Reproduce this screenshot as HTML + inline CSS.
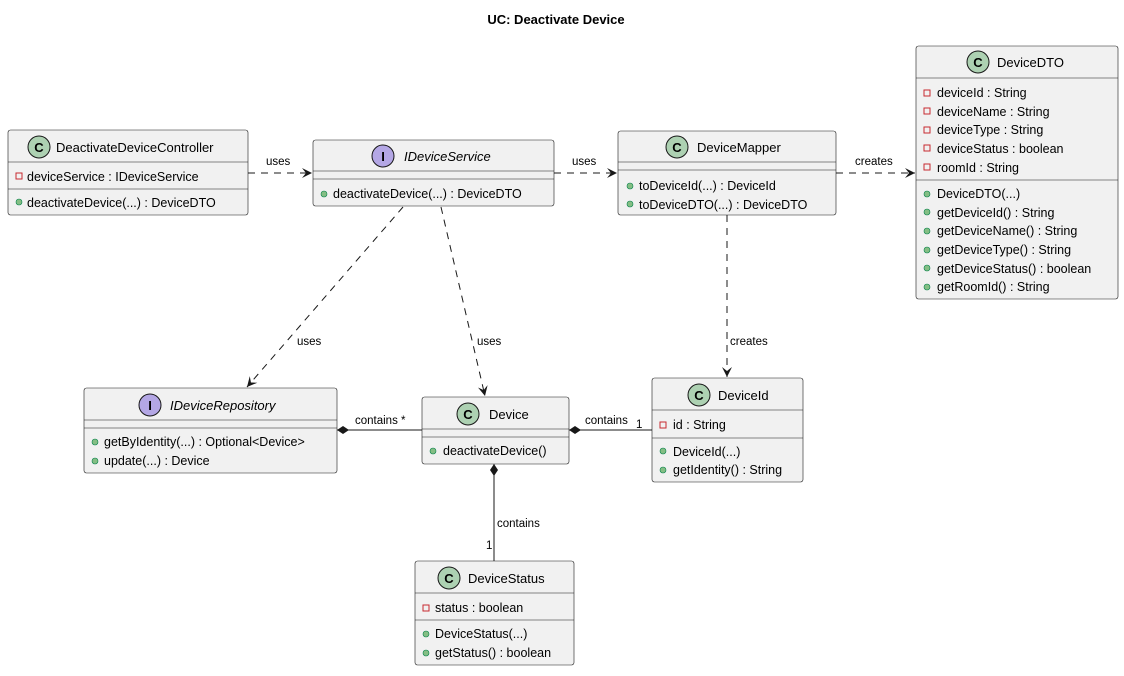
<!DOCTYPE html>
<html><head><meta charset="utf-8"><style>
body{margin:0;background:#fff}
svg text{font-family:"Liberation Sans",sans-serif;fill:#000}
.b{fill:#F1F1F1;stroke:#181818;stroke-width:0.6}
.d{stroke:#181818;stroke-width:0.6}
.t{font-size:13px}
.m{font-size:12.5px}
.l{font-size:11.5px}
.dash{stroke:#181818;stroke-width:1;stroke-dasharray:7,6;fill:none}
.sol{stroke:#181818;stroke-width:1;fill:none}
.pv{fill:none;stroke:#C82930;stroke-width:1}
.pb{fill:#84BE84;stroke:#038048;stroke-width:0.6}
</style></head><body>
<svg width="1124" height="671" xmlns="http://www.w3.org/2000/svg">
<defs>
<marker id="ar" markerWidth="12" markerHeight="10" refX="10" refY="5" orient="auto" markerUnits="userSpaceOnUse">
<path d="M0,0 L10,5 L0,10 L4,5 Z" fill="#181818"/></marker>
</defs>
<text x="556" y="24" text-anchor="middle" style="font-size:13px;font-weight:bold">UC: Deactivate Device</text>

<!-- edges -->
<line class="dash" x1="248" y1="173" x2="312" y2="173" marker-end="url(#ar)"/>
<text class="l" x="266" y="165">uses</text>
<line class="dash" x1="554" y1="173" x2="617" y2="173" marker-end="url(#ar)"/>
<text class="l" x="572" y="165">uses</text>
<line class="dash" x1="836" y1="173" x2="915" y2="173" marker-end="url(#ar)"/>
<text class="l" x="855" y="165">creates</text>
<line class="dash" x1="403" y1="207" x2="247" y2="387" marker-end="url(#ar)"/>
<text class="l" x="297" y="345">uses</text>
<line class="dash" x1="441" y1="207" x2="485" y2="396" marker-end="url(#ar)"/>
<text class="l" x="477" y="345">uses</text>
<line class="dash" x1="727" y1="215" x2="727" y2="377" marker-end="url(#ar)"/>
<text class="l" x="730" y="345">creates</text>

<line class="sol" x1="337" y1="430" x2="422" y2="430"/>
<path d="M337,430 L343,426 L349,430 L343,434 Z" fill="#181818"/>
<text class="l" x="355" y="424">contains *</text>
<line class="sol" x1="569" y1="430" x2="652" y2="430"/>
<path d="M569,430 L575,426 L581,430 L575,434 Z" fill="#181818"/>
<text class="l" x="585" y="424">contains</text>
<text class="l" x="636" y="428">1</text>
<line class="sol" x1="494" y1="464" x2="494" y2="561"/>
<path d="M494,464 L498,470 L494,476 L490,470 Z" fill="#181818"/>
<text class="l" x="497" y="527">contains</text>
<text class="l" x="486" y="549">1</text>

<!-- DeactivateDeviceController -->
<rect class="b" x="8" y="130" width="240" height="85" rx="2.5"/>
<line class="d" x1="8" y1="162" x2="248" y2="162"/>
<line class="d" x1="8" y1="189" x2="248" y2="189"/>
<circle cx="39" cy="147" r="11" fill="#ADD1B2" stroke="#181818" stroke-width="1"/>
<text x="39" y="152" text-anchor="middle" style="font-size:13px;font-weight:bold">C</text>
<text class="t" x="56" y="152">DeactivateDeviceController</text>
<rect class="pv" x="16" y="173" width="6" height="6"/>
<text class="m" x="27" y="181">deviceService : IDeviceService</text>
<circle class="pb" cx="19" cy="202" r="3"/>
<text class="m" x="27" y="207">deactivateDevice(...) : DeviceDTO</text>

<!-- IDeviceService -->
<rect class="b" x="313" y="140" width="241" height="66" rx="2.5"/>
<line class="d" x1="313" y1="171" x2="554" y2="171"/>
<line class="d" x1="313" y1="179" x2="554" y2="179"/>
<circle cx="383" cy="156" r="11" fill="#B4A7E5" stroke="#181818" stroke-width="1"/>
<text x="383" y="161" text-anchor="middle" style="font-size:13px;font-weight:bold">I</text>
<text class="t" x="404" y="161" font-style="italic">IDeviceService</text>
<circle class="pb" cx="324" cy="194" r="3"/>
<text class="m" x="333" y="198">deactivateDevice(...) : DeviceDTO</text>

<!-- DeviceMapper -->
<rect class="b" x="618" y="131" width="218" height="84" rx="2.5"/>
<line class="d" x1="618" y1="162" x2="836" y2="162"/>
<line class="d" x1="618" y1="170" x2="836" y2="170"/>
<circle cx="677" cy="147" r="11" fill="#ADD1B2" stroke="#181818" stroke-width="1"/>
<text x="677" y="152" text-anchor="middle" style="font-size:13px;font-weight:bold">C</text>
<text class="t" x="697" y="152">DeviceMapper</text>
<circle class="pb" cx="630" cy="186" r="3"/>
<text class="m" x="639" y="190">toDeviceId(...) : DeviceId</text>
<circle class="pb" cx="630" cy="204" r="3"/>
<text class="m" x="639" y="209">toDeviceDTO(...) : DeviceDTO</text>

<!-- DeviceDTO -->
<rect class="b" x="916" y="46" width="202" height="253" rx="2.5"/>
<line class="d" x1="916" y1="78" x2="1118" y2="78"/>
<line class="d" x1="916" y1="180" x2="1118" y2="180"/>
<circle cx="978" cy="62" r="11" fill="#ADD1B2" stroke="#181818" stroke-width="1"/>
<text x="978" y="67" text-anchor="middle" style="font-size:13px;font-weight:bold">C</text>
<text class="t" x="997" y="67">DeviceDTO</text>
<rect class="pv" x="924" y="90" width="6" height="6"/><text class="m" x="937" y="97">deviceId : String</text>
<rect class="pv" x="924" y="108" width="6" height="6"/><text class="m" x="937" y="116">deviceName : String</text>
<rect class="pv" x="924" y="127" width="6" height="6"/><text class="m" x="937" y="134">deviceType : String</text>
<rect class="pv" x="924" y="145" width="6" height="6"/><text class="m" x="937" y="153">deviceStatus : boolean</text>
<rect class="pv" x="924" y="164" width="6" height="6"/><text class="m" x="937" y="172">roomId : String</text>
<circle class="pb" cx="927" cy="194" r="3"/><text class="m" x="937" y="198">DeviceDTO(...)</text>
<circle class="pb" cx="927" cy="212" r="3"/><text class="m" x="937" y="217">getDeviceId() : String</text>
<circle class="pb" cx="927" cy="231" r="3"/><text class="m" x="937" y="235">getDeviceName() : String</text>
<circle class="pb" cx="927" cy="250" r="3"/><text class="m" x="937" y="254">getDeviceType() : String</text>
<circle class="pb" cx="927" cy="268" r="3"/><text class="m" x="937" y="273">getDeviceStatus() : boolean</text>
<circle class="pb" cx="927" cy="287" r="3"/><text class="m" x="937" y="291">getRoomId() : String</text>

<!-- IDeviceRepository -->
<rect class="b" x="84" y="388" width="253" height="85" rx="2.5"/>
<line class="d" x1="84" y1="420" x2="337" y2="420"/>
<line class="d" x1="84" y1="428" x2="337" y2="428"/>
<circle cx="150" cy="405" r="11" fill="#B4A7E5" stroke="#181818" stroke-width="1"/>
<text x="150" y="410" text-anchor="middle" style="font-size:13px;font-weight:bold">I</text>
<text class="t" x="170" y="410" font-style="italic">IDeviceRepository</text>
<circle class="pb" cx="95" cy="442" r="3"/><text class="m" x="104" y="446">getByIdentity(...) : Optional&lt;Device&gt;</text>
<circle class="pb" cx="95" cy="461" r="3"/><text class="m" x="104" y="465">update(...) : Device</text>

<!-- Device -->
<rect class="b" x="422" y="397" width="147" height="67" rx="2.5"/>
<line class="d" x1="422" y1="429" x2="569" y2="429"/>
<line class="d" x1="422" y1="437" x2="569" y2="437"/>
<circle cx="468" cy="414" r="11" fill="#ADD1B2" stroke="#181818" stroke-width="1"/>
<text x="468" y="419" text-anchor="middle" style="font-size:13px;font-weight:bold">C</text>
<text class="t" x="489" y="419">Device</text>
<circle class="pb" cx="433" cy="451" r="3"/><text class="m" x="443" y="455">deactivateDevice()</text>

<!-- DeviceId -->
<rect class="b" x="652" y="378" width="151" height="104" rx="2.5"/>
<line class="d" x1="652" y1="410" x2="803" y2="410"/>
<line class="d" x1="652" y1="438" x2="803" y2="438"/>
<circle cx="699" cy="395" r="11" fill="#ADD1B2" stroke="#181818" stroke-width="1"/>
<text x="699" y="400" text-anchor="middle" style="font-size:13px;font-weight:bold">C</text>
<text class="t" x="718" y="400">DeviceId</text>
<rect class="pv" x="660" y="422" width="6" height="6"/><text class="m" x="673" y="429">id : String</text>
<circle class="pb" cx="663" cy="451" r="3"/><text class="m" x="673" y="456">DeviceId(...)</text>
<circle class="pb" cx="663" cy="470" r="3"/><text class="m" x="673" y="474">getIdentity() : String</text>

<!-- DeviceStatus -->
<rect class="b" x="415" y="561" width="159" height="104" rx="2.5"/>
<line class="d" x1="415" y1="593" x2="574" y2="593"/>
<line class="d" x1="415" y1="620" x2="574" y2="620"/>
<circle cx="449" cy="578" r="11" fill="#ADD1B2" stroke="#181818" stroke-width="1"/>
<text x="449" y="583" text-anchor="middle" style="font-size:13px;font-weight:bold">C</text>
<text class="t" x="468" y="583">DeviceStatus</text>
<rect class="pv" x="423" y="605" width="6" height="6"/><text class="m" x="435" y="612">status : boolean</text>
<circle class="pb" cx="426" cy="634" r="3"/><text class="m" x="435" y="638">DeviceStatus(...)</text>
<circle class="pb" cx="426" cy="653" r="3"/><text class="m" x="435" y="657">getStatus() : boolean</text>
</svg>
</body></html>
